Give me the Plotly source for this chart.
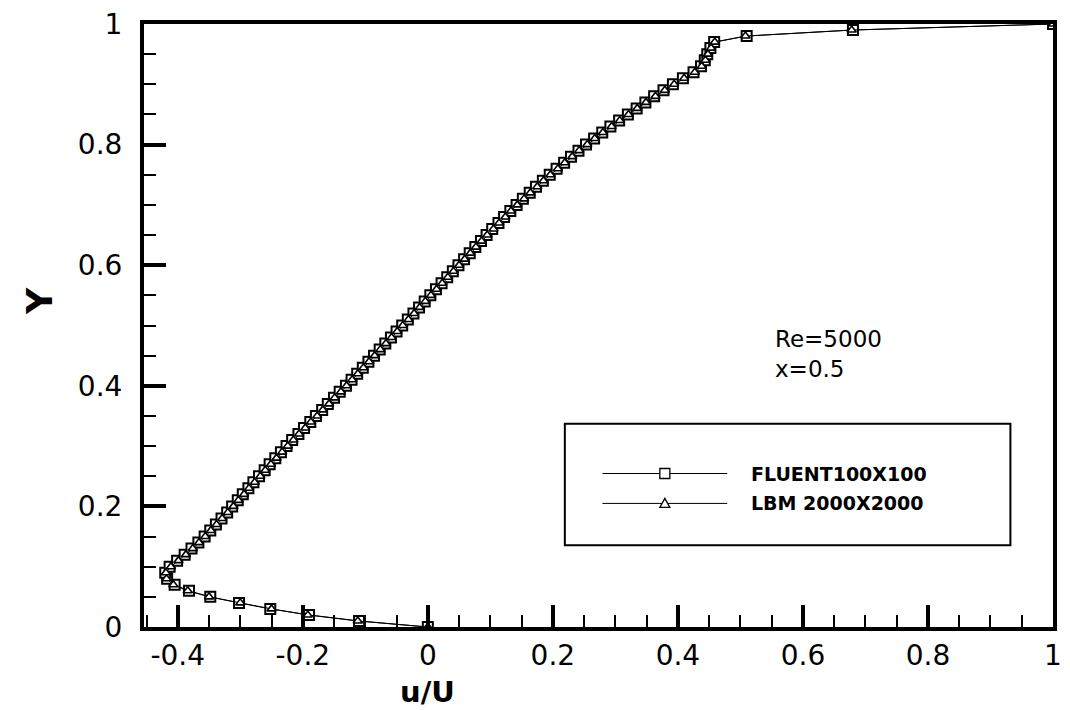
import plotly.graph_objects as go

# ---------------- data ----------------
y_fluent = [0.00, 0.01, 0.02, 0.03, 0.04, 0.05, 0.06, 0.07, 0.08, 0.09,
            0.10, 0.11, 0.12, 0.13, 0.14, 0.15, 0.16, 0.17, 0.18, 0.19,
            0.20, 0.21, 0.22, 0.23, 0.24, 0.25, 0.26, 0.27, 0.28, 0.29,
            0.30, 0.31, 0.32, 0.33, 0.34, 0.35, 0.36, 0.37, 0.38, 0.39,
            0.40, 0.41, 0.42, 0.43, 0.44, 0.45, 0.46, 0.47, 0.48, 0.49,
            0.50, 0.51, 0.52, 0.53, 0.54, 0.55, 0.56, 0.57, 0.58, 0.59,
            0.60, 0.61, 0.62, 0.63, 0.64, 0.65, 0.66, 0.67, 0.68, 0.69,
            0.70, 0.71, 0.72, 0.73, 0.74, 0.75, 0.76, 0.77, 0.78, 0.79,
            0.80, 0.81, 0.82, 0.83, 0.84, 0.85, 0.86, 0.87, 0.88, 0.89,
            0.90, 0.91, 0.92, 0.93, 0.94, 0.95, 0.96, 0.97, 0.98, 0.99,
            1.00]
u_fluent = [0.000, -0.110, -0.190, -0.252, -0.302, -0.348, -0.382, -0.405, -0.417, -0.420,
            -0.413, -0.401, -0.389, -0.378, -0.367, -0.357, -0.348, -0.339, -0.330, -0.321,
            -0.313, -0.304, -0.296, -0.287, -0.279, -0.270, -0.261, -0.253, -0.244, -0.235,
            -0.226, -0.217, -0.207, -0.198, -0.188, -0.179, -0.169, -0.160, -0.150, -0.141,
            -0.131, -0.122, -0.113, -0.104, -0.095, -0.086, -0.077, -0.068, -0.059, -0.050,
            -0.041, -0.032, -0.023, -0.014, -0.005, 0.004, 0.013, 0.022, 0.031, 0.040,
            0.049, 0.058, 0.067, 0.076, 0.085, 0.094, 0.103, 0.113, 0.122, 0.132,
            0.142, 0.152, 0.163, 0.173, 0.184, 0.195, 0.206, 0.218, 0.229, 0.241,
            0.253, 0.266, 0.279, 0.292, 0.306, 0.320, 0.334, 0.348, 0.362, 0.377,
            0.392, 0.408, 0.425, 0.437, 0.443, 0.447, 0.452, 0.458, 0.510, 0.680,
            1.000]

y_lbm = [0.000, 0.010, 0.020, 0.030, 0.040, 0.050, 0.060, 0.070, 0.080, 0.090,
         0.100, 0.110, 0.120, 0.130, 0.140, 0.150, 0.160, 0.170, 0.180, 0.190,
         0.200, 0.210, 0.220, 0.230, 0.240, 0.250, 0.260, 0.270, 0.280, 0.290,
         0.300, 0.310, 0.320, 0.330, 0.340, 0.350, 0.360, 0.370, 0.380, 0.390,
         0.400, 0.410, 0.420, 0.430, 0.440, 0.450, 0.460, 0.470, 0.480, 0.490,
         0.500, 0.510, 0.520, 0.530, 0.540, 0.550, 0.560, 0.570, 0.580, 0.590,
         0.600, 0.610, 0.620, 0.630, 0.640, 0.650, 0.660, 0.670, 0.680, 0.690,
         0.700, 0.710, 0.720, 0.730, 0.740, 0.750, 0.760, 0.770, 0.780, 0.790,
         0.800, 0.810, 0.820, 0.830, 0.840, 0.850, 0.860, 0.870, 0.880, 0.890,
         0.900, 0.910, 0.920, 0.930, 0.940, 0.950, 0.960, 0.970, 0.980, 0.990,
         1.000]
u_lbm = [0.000, -0.112, -0.192, -0.250, -0.300, -0.350, -0.384, -0.407, -0.418, -0.419,
         -0.411, -0.399, -0.387, -0.376, -0.366, -0.356, -0.347, -0.338, -0.329, -0.320,
         -0.311, -0.303, -0.294, -0.286, -0.277, -0.268, -0.260, -0.251, -0.242, -0.233,
         -0.224, -0.215, -0.206, -0.196, -0.187, -0.177, -0.168, -0.158, -0.149, -0.139,
         -0.130, -0.121, -0.112, -0.103, -0.094, -0.085, -0.076, -0.067, -0.058, -0.049,
         -0.040, -0.031, -0.022, -0.013, -0.004, 0.005, 0.014, 0.023, 0.032, 0.041,
         0.050, 0.059, 0.068, 0.077, 0.086, 0.095, 0.105, 0.114, 0.124, 0.133,
         0.143, 0.154, 0.164, 0.175, 0.185, 0.196, 0.208, 0.219, 0.231, 0.242,
         0.255, 0.267, 0.280, 0.294, 0.307, 0.321, 0.335, 0.349, 0.364, 0.379,
         0.394, 0.410, 0.427, 0.438, 0.444, 0.448, 0.453, 0.459, 0.508, 0.678,
         1.000]

x_tick_vals = [-0.4, -0.2, 0.0, 0.2, 0.4, 0.6, 0.8, 1.0]
x_tick_text = ["-0.4", "-0.2", "0", "0.2", "0.4", "0.6", "0.8", "1"]
y_tick_vals = [0.0, 0.2, 0.4, 0.6, 0.8, 1.0]
y_tick_text = ["0", "0.2", "0.4", "0.6", "0.8", "1"]

series_names = ["FLUENT100X100", "LBM 2000X2000"]
annotation_lines = ["Re=5000", "x=0.5"]

FONT = "DejaVu Sans"

fig = go.Figure()
fig.add_trace(go.Scatter(
    x=u_fluent, y=y_fluent, mode="lines+markers", name=series_names[0],
    line=dict(color="black", width=1),
    marker=dict(symbol="square", size=10, color="white",
                line=dict(color="black", width=2)),
    showlegend=False))
fig.add_trace(go.Scatter(
    x=u_lbm, y=y_lbm, mode="lines+markers", name=series_names[1],
    line=dict(color="black", width=1),
    marker=dict(symbol="triangle-up", size=8, color="white",
                line=dict(color="black", width=1.6)),
    showlegend=False))

axis_common = dict(
    showline=True, linecolor="black", linewidth=4, mirror=True,
    ticks="inside", ticklen=22, tickwidth=4, tickcolor="black",
    showgrid=False, zeroline=False,
    tickfont=dict(family=FONT, size=28, color="black"),
)

fig.update_xaxes(
    range=[-0.454, 1.0], tickvals=x_tick_vals, ticktext=x_tick_text,
    minor=dict(ticks="inside", ticklen=12, tickwidth=2, tickcolor="black",
               dtick=0.05, tick0=0, showgrid=False),
    ticklabelstandoff=0,
    **axis_common)
fig.update_yaxes(
    range=[0, 1.0], tickvals=y_tick_vals, ticktext=y_tick_text,
    minor=dict(ticks="inside", ticklen=12, tickwidth=2, tickcolor="black",
               dtick=0.05, tick0=0, showgrid=False),
    ticklabelstandoff=12,
    **axis_common)

L, R, T, B = 144, 8, 22, 83
W, H = 1070, 710
pw, ph = W - L - R, H - T - B


def px_x(p):
    return (p - L) / pw


def px_y(p):
    return (H - B - p) / ph


shapes = []
# legend box
shapes.append(dict(type="rect", xref="paper", yref="paper",
                   x0=px_x(569), x1=px_x(1019), y0=px_y(545), y1=px_y(423),
                   line=dict(color="black", width=2), fillcolor="white", layer="below"))
row_y = [px_y(473), px_y(503)]
for ry in row_y:
    shapes.append(dict(type="line", xref="paper", yref="paper",
                       x0=px_x(607), x1=px_x(733), y0=ry, y1=ry,
                       line=dict(color="black", width=1)))
# legend square symbol
shapes.append(dict(type="rect", xref="paper", yref="paper",
                   xsizemode="pixel", ysizemode="pixel",
                   xanchor=px_x(670), yanchor=row_y[0],
                   x0=-5, x1=5, y0=-5, y1=5,
                   line=dict(color="black", width=1.3), fillcolor="white"))
# legend triangle symbol
shapes.append(dict(type="path", xref="paper", yref="paper",
                   xsizemode="pixel", ysizemode="pixel",
                   xanchor=px_x(670), yanchor=row_y[1],
                   path="M -5,-4 L 5,-4 L 0,5 Z",
                   line=dict(color="black", width=1.3), fillcolor="white"))

annotations = []
for name, ry in zip(series_names, row_y):
    annotations.append(dict(text=f"<b>{name}</b>", xref="paper", yref="paper",
                            x=px_x(755), y=ry, xanchor="left", yanchor="middle",
                            showarrow=False,
                            font=dict(family=FONT, size=19, color="black")))
annotations.append(dict(text=annotation_lines[0], xref="paper", yref="paper",
                        x=px_x(779), y=px_y(338), xanchor="left", yanchor="middle",
                        showarrow=False, font=dict(family=FONT, size=23, color="black")))
annotations.append(dict(text=annotation_lines[1], xref="paper", yref="paper",
                        x=px_x(779), y=px_y(368), xanchor="left", yanchor="middle",
                        showarrow=False, font=dict(family=FONT, size=23, color="black")))
# axis titles
annotations.append(dict(text="<b>u/U</b>", xref="paper", yref="paper",
                        x=px_x(430), y=px_y(692), xanchor="center", yanchor="middle",
                        showarrow=False, font=dict(family=FONT, size=29, color="black")))
annotations.append(dict(text="<b>Y</b>", xref="paper", yref="paper",
                        x=px_x(38), y=px_y(300), xanchor="center", yanchor="middle",
                        textangle=-90, showarrow=False,
                        font=dict(family=FONT, size=36, color="black")))

fig.update_layout(
    width=W, height=H,
    margin=dict(l=L, r=R, t=T, b=B),
    paper_bgcolor="white", plot_bgcolor="white",
    shapes=shapes, annotations=annotations,
    showlegend=False,
)

fig.write_html("out.html")
